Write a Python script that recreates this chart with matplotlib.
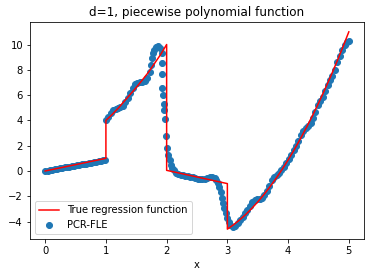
""" d=1 piecewise polynomial: true function vs PCR-FLE estimate """

import numpy as np
import matplotlib.pyplot as plt

# true regression function (vertical jumps at 1, 2, 3)
true_x = [0.0, 1.0, 1.0, 1.1, 1.2, 1.3, 1.4, 1.5, 1.6, 1.7, 1.8, 1.9, 2.0,
          2.0, 3.0, 3.0, 3.1, 3.2, 3.3, 3.4, 3.5, 3.6, 3.7, 3.8, 3.9, 4.0,
          4.1, 4.2, 4.3, 4.4, 4.5, 4.6, 4.7, 4.8, 4.9, 5.0]
true_y = [0.0, 1.0, 4.0, 4.45, 4.95, 5.5, 6.05, 6.6, 7.2, 7.8, 8.5, 9.2, 10.0,
          0.05, -1.0, -4.6, -4.26, -3.88, -3.45, -2.97, -2.45, -1.88, -1.26,
          -0.6, 0.11, 0.87, 1.67, 2.52, 3.42, 4.36, 5.35, 6.39, 7.47, 8.6,
          9.78, 11.0]

# PCR-FLE estimates
est_x = [0.00, 0.04, 0.08, 0.12, 0.16, 0.20, 0.24, 0.28, 0.32, 0.36, 0.40,
         0.44, 0.48, 0.52, 0.56, 0.60, 0.64, 0.68, 0.72, 0.76, 0.80, 0.84,
         0.88, 0.92, 0.96, 0.99,
         1.00, 1.04, 1.08, 1.12, 1.16, 1.20, 1.24, 1.28, 1.32, 1.36, 1.40,
         1.44, 1.48, 1.52, 1.56, 1.60, 1.64, 1.68, 1.72, 1.74, 1.76, 1.78,
         1.80, 1.83, 1.86, 1.89,
         1.92, 1.93, 1.93, 1.93, 1.94, 1.95, 1.96, 1.97, 1.99, 2.01, 2.02,
         2.05, 2.07, 2.09, 2.12, 2.15, 2.19,
         2.23, 2.27, 2.31, 2.35, 2.39, 2.43, 2.47, 2.51, 2.55, 2.59, 2.63,
         2.67, 2.71, 2.75, 2.79, 2.82, 2.85, 2.87, 2.89, 2.91, 2.93, 2.95,
         2.97, 2.99, 3.02, 3.05, 3.09, 3.13,
         3.17, 3.21, 3.25, 3.29, 3.33, 3.37, 3.41, 3.45, 3.49, 3.53, 3.57,
         3.61, 3.65, 3.69, 3.73, 3.77, 3.81, 3.85, 3.89, 3.93, 3.97, 4.01,
         4.05, 4.09, 4.13, 4.17, 4.21, 4.25, 4.29, 4.33, 4.37, 4.41, 4.45,
         4.49, 4.53, 4.57, 4.61, 4.65, 4.69, 4.73, 4.77, 4.81, 4.85, 4.89,
         4.93, 4.97, 5.00]
est_y = [0.00, 0.02, 0.05, 0.08, 0.12, 0.16, 0.20, 0.24, 0.28, 0.31, 0.34,
         0.37, 0.41, 0.45, 0.49, 0.52, 0.55, 0.58, 0.62, 0.66, 0.70, 0.73,
         0.76, 0.80, 0.84, 0.88,
         4.00, 4.30, 4.60, 4.80, 4.90, 5.00, 5.05, 5.15, 5.45, 5.80, 6.20,
         6.60, 6.85, 6.95, 7.00, 7.05, 7.15, 7.35, 7.80, 8.40, 8.90, 9.30,
         9.60, 9.80, 9.85, 9.75,
         9.30, 8.50, 7.70, 6.60, 6.00, 5.30, 4.80, 4.10, 2.80, 1.80, 1.30,
         0.90, 0.50, 0.25, 0.05, -0.15, -0.25,
         -0.30, -0.33, -0.38, -0.42, -0.46, -0.50, -0.55, -0.60, -0.64,
         -0.66, -0.62, -0.55, -0.48, -0.48, -0.55, -0.70, -0.95, -1.30,
         -1.70, -2.10, -2.50, -2.90, -3.30, -3.70, -4.05, -4.30, -4.40, -4.35,
         -4.15, -3.90, -3.65, -3.35, -3.05, -2.75, -2.45, -2.30, -2.25, -2.20,
         -2.10, -1.90, -1.55, -1.15, -0.75, -0.45, -0.30, -0.15, 0.05, 0.30,
         0.60, 0.95, 1.30, 1.65, 2.00, 2.40, 2.85, 3.20, 3.40, 3.55, 3.80,
         4.20, 4.70, 5.20, 5.55, 5.85, 6.30, 6.80, 7.20, 7.50, 7.95, 8.60,
         9.10, 9.60, 10.00, 10.20, 10.25]

fig = plt.figure(figsize=(370 / 72, 278 / 72), dpi=72)
fig.subplots_adjust(left=30 / 370, right=364 / 370, top=1 - 22 / 278,
                    bottom=1 - 239 / 278)
plt.plot(true_x, true_y, color='r', label="True regression function")
plt.scatter(est_x, est_y, label="PCR-FLE")
plt.legend(loc='lower left')
plt.title("d=1, piecewise polynomial function")
plt.xlabel("x")
plt.savefig('out.png', dpi=72)
